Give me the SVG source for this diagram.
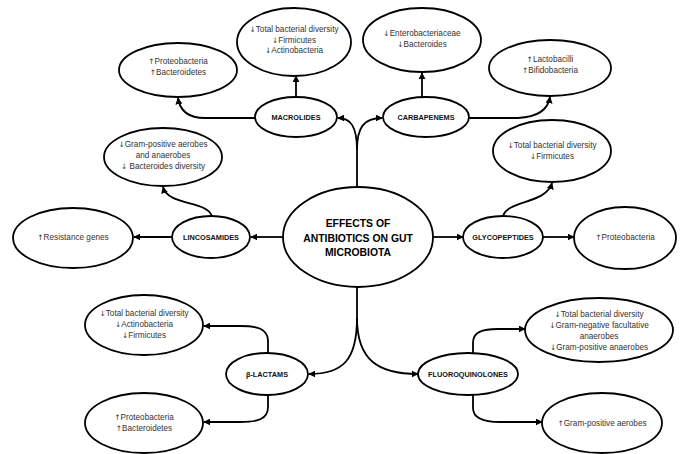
<svg xmlns="http://www.w3.org/2000/svg" width="683" height="454" viewBox="0 0 683 454">
<defs>
<style>
.e{fill:#fff;stroke:#000;stroke-width:1.8}
.c{fill:none;stroke:#000;stroke-width:1.8}
.t{font-family:"Liberation Sans",Arial,sans-serif;font-size:8.2px;fill:#333;text-anchor:middle}
.r{font-family:"DejaVu Sans",sans-serif;font-size:7.5px;fill:#333}
.n{font-family:"Liberation Sans",Arial,sans-serif;font-size:7.3px;font-weight:bold;fill:#111;text-anchor:middle}
.m{font-family:"Liberation Sans",Arial,sans-serif;font-size:10.4px;font-weight:bold;fill:#000;text-anchor:middle}
</style>
<marker id="a" viewBox="0 0 10 10" refX="9" refY="5" markerWidth="7" markerHeight="7" markerUnits="userSpaceOnUse" orient="auto">
<path d="M0,0 L10,5 L0,10 z" fill="#000"/>
</marker>
</defs>
<rect width="683" height="454" fill="#fff"/>
<g id="connectors">
<path class="c" d="M357,188 V150 C357,127 351,118 338,118" marker-end="url(#a)"/>
<path class="c" d="M357,150 C357,127 364,118 382,118" marker-end="url(#a)"/>
<path class="c" d="M296,97 V76" marker-end="url(#a)"/>
<path class="c" d="M256,118 H205 C190,118 180,112 178,98" marker-end="url(#a)"/>
<path class="c" d="M422,97 V73" marker-end="url(#a)"/>
<path class="c" d="M469,118 H518 C538,117 548,110 550,97" marker-end="url(#a)"/>
<path class="c" d="M283,237 H251" marker-end="url(#a)"/>
<path class="c" d="M172,237 H134" marker-end="url(#a)"/>
<path class="c" d="M212,216 C206,200 168,206 163,187" marker-end="url(#a)"/>
<path class="c" d="M433,237 H463" marker-end="url(#a)"/>
<path class="c" d="M543,237 H574" marker-end="url(#a)"/>
<path class="c" d="M503,216 C508,200 546,204 552,183" marker-end="url(#a)"/>
<path class="c" d="M357,287 V318 C357,360 343,374 309,374" marker-end="url(#a)"/>
<path class="c" d="M357,318 C357,360 378,374 418,374" marker-end="url(#a)"/>
<path class="c" d="M268,353 V341 C268,329 258,326 240,326 H204" marker-end="url(#a)"/>
<path class="c" d="M268,395 V407 C268,419 258,422 240,422 H204" marker-end="url(#a)"/>
<path class="c" d="M473,353 V343 C473,332 482,329 498,329 H525" marker-end="url(#a)"/>
<path class="c" d="M473,395 V408 C473,419 484,422 500,422 H542" marker-end="url(#a)"/>
</g>
<g id="center">
<ellipse class="e" cx="358" cy="237" rx="75" ry="50"/>
<text class="m" x="358" y="227">EFFECTS OF</text>
<text class="m" x="358" y="242">ANTIBIOTICS ON GUT</text>
<text class="m" x="358" y="256">MICROBIOTA</text>
</g>
<g id="macrolides">
<ellipse class="e" cx="296" cy="117" rx="41" ry="20"/>
<text class="n" x="296" y="120">MACROLIDES</text>
</g>
<g id="macrolides-top">
<ellipse class="e" cx="294" cy="42" rx="57" ry="34"/>
<text class="t" x="294" y="32"><tspan class="r">↓</tspan>Total bacterial diversity</text>
<text class="t" x="294" y="42.5"><tspan class="r">↓</tspan>Firmicutes</text>
<text class="t" x="294" y="53"><tspan class="r">↓</tspan>Actinobacteria</text>
</g>
<g id="macrolides-left">
<ellipse class="e" cx="178" cy="70" rx="59" ry="27"/>
<text class="t" x="178" y="64"><tspan class="r">↑</tspan>Proteobacteria</text>
<text class="t" x="178" y="74.5"><tspan class="r">↑</tspan>Bacteroidetes</text>
</g>
<g id="carbapenems">
<ellipse class="e" cx="426" cy="117" rx="43" ry="20"/>
<text class="n" x="426" y="120">CARBAPENEMS</text>
</g>
<g id="carbapenems-top">
<ellipse class="e" cx="422" cy="40" rx="59" ry="32"/>
<text class="t" x="422" y="36"><tspan class="r">↓</tspan>Enterobacteriaceae</text>
<text class="t" x="422" y="47"><tspan class="r">↓</tspan>Bacteroides</text>
</g>
<g id="carbapenems-right">
<ellipse class="e" cx="550" cy="68" rx="61" ry="28"/>
<text class="t" x="550" y="62"><tspan class="r">↑</tspan>Lactobacilli</text>
<text class="t" x="550" y="73"><tspan class="r">↑</tspan>Bifidobacteria</text>
</g>
<g id="lincosamides">
<ellipse class="e" cx="211" cy="237" rx="39" ry="21"/>
<text class="n" x="211" y="240">LINCOSAMIDES</text>
</g>
<g id="lincosamides-top">
<ellipse class="e" cx="163" cy="157" rx="59" ry="29"/>
<text class="t" x="163" y="147"><tspan class="r">↓</tspan>Gram-positive aerobes</text>
<text class="t" x="163" y="158">and anaerobes</text>
<text class="t" x="163" y="169"><tspan class="r">↓</tspan> Bacteroides diversity</text>
</g>
<g id="lincosamides-left">
<ellipse class="e" cx="73" cy="238" rx="60" ry="30"/>
<text class="t" x="73" y="240"><tspan class="r">↑</tspan>Resistance genes</text>
</g>
<g id="glycopeptides">
<ellipse class="e" cx="503" cy="237" rx="40" ry="21"/>
<text class="n" x="503" y="240">GLYCOPEPTIDES</text>
</g>
<g id="glycopeptides-top">
<ellipse class="e" cx="552" cy="151" rx="59" ry="31"/>
<text class="t" x="552" y="148"><tspan class="r">↓</tspan>Total bacterial diversity</text>
<text class="t" x="552" y="159"><tspan class="r">↓</tspan>Firmicutes</text>
</g>
<g id="glycopeptides-right">
<ellipse class="e" cx="625" cy="238" rx="51" ry="31"/>
<text class="t" x="625" y="240"><tspan class="r">↑</tspan>Proteobacteria</text>
</g>
<g id="beta-lactams">
<ellipse class="e" cx="267" cy="374" rx="41" ry="21"/>
<text class="n" x="267" y="377">β-LACTAMS</text>
</g>
<g id="beta-lactams-top">
<ellipse class="e" cx="144" cy="325" rx="59" ry="30"/>
<text class="t" x="144" y="316"><tspan class="r">↓</tspan>Total bacterial diversity</text>
<text class="t" x="144" y="327"><tspan class="r">↓</tspan>Actinobacteria</text>
<text class="t" x="144" y="338"><tspan class="r">↓</tspan>Firmicutes</text>
</g>
<g id="beta-lactams-bottom">
<ellipse class="e" cx="144" cy="423" rx="59" ry="30"/>
<text class="t" x="144" y="420"><tspan class="r">↑</tspan>Proteobacteria</text>
<text class="t" x="144" y="431"><tspan class="r">↑</tspan>Bacteroidetes</text>
</g>
<g id="fluoroquinolones">
<ellipse class="e" cx="468" cy="374" rx="50" ry="21"/>
<text class="n" x="468" y="377">FLUOROQUINOLONES</text>
</g>
<g id="fluoroquinolones-top">
<ellipse class="e" cx="599" cy="330" rx="74" ry="32"/>
<text class="t" x="599" y="317"><tspan class="r">↓</tspan>Total bacterial diversity</text>
<text class="t" x="599" y="328"><tspan class="r">↓</tspan>Gram-negative facultative</text>
<text class="t" x="599" y="339">anaerobes</text>
<text class="t" x="599" y="350"><tspan class="r">↓</tspan>Gram-positive anaerobes</text>
</g>
<g id="fluoroquinolones-bottom">
<ellipse class="e" cx="602" cy="423" rx="60" ry="30"/>
<text class="t" x="602" y="426"><tspan class="r">↑</tspan>Gram-positive aerobes</text>
</g>
</svg>
